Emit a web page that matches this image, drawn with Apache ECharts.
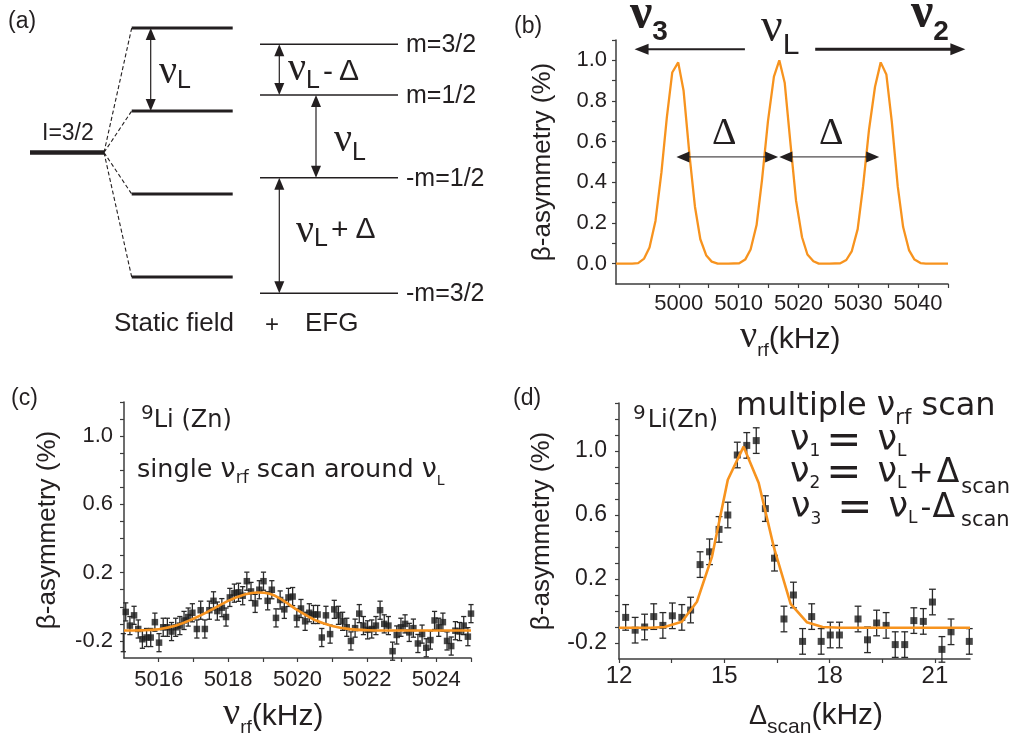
<!DOCTYPE html>
<html><head><meta charset="utf-8">
<script src="https://cdn.jsdelivr.net/npm/echarts@6/dist/echarts.min.js"></script>
<style>html,body{margin:0;padding:0;background:#fff}#c{width:1013px;height:736px}</style>
</head><body><div id="c"></div>
<script>
// ================= DATA =================
// (a) energy levels, in units of nu_L
const zeemanLevels = [1.5, 0.5, -0.5, -1.5];
const efgLevels = [1.304, 0.693, -0.304, -1.696];
const efgLabels = ['m=3/2', 'm=1/2', '-m=1/2', '-m=3/2'];

// (b) simulated multiple-rf resonance curve
const bX = [4989.5, 4992.2, 4993.2, 4994.2, 4995.1, 4996.1, 4997.1, 4998.0, 4998.9, 4999.9, 5000.8, 5001.8, 5002.7, 5003.6, 5004.6, 5005.5, 5006.5, 5008.3, 5010.1, 5011.1, 5012.0, 5013.0, 5013.9, 5014.9, 5015.9, 5016.8, 5017.7, 5018.7, 5019.6, 5020.6, 5021.5, 5022.5, 5023.4, 5025.2, 5027.0, 5028.0, 5028.9, 5029.9, 5030.8, 5031.8, 5032.8, 5033.75, 5034.7, 5035.6, 5036.6, 5037.5, 5038.5, 5039.4, 5040.4, 5041.3, 5045.0];
const bY = [0, 0, 0.003, 0.025, 0.08, 0.21, 0.45, 0.72, 0.94, 0.99, 0.85, 0.53, 0.28, 0.12, 0.04, 0.01, 0, 0, 0.002, 0.02, 0.07, 0.19, 0.41, 0.70, 0.92, 1.0, 0.89, 0.58, 0.31, 0.13, 0.045, 0.012, 0, 0, 0.002, 0.018, 0.06, 0.17, 0.38, 0.66, 0.87, 0.99, 0.93, 0.70, 0.38, 0.18, 0.065, 0.02, 0.003, 0, 0];
const bPeakCenters = [4999.6, 5016.6, 5016.8, 5033.5];
const bDeltaLevel = 0.525;
const bTopArrowLevel = 1.054;
const bXTicks = [4995, 5000, 5005, 5010, 5015, 5020, 5025, 5030, 5035, 5040, 5045];
const bXLabels = [5000, 5010, 5020, 5030, 5040];
const bYTicks = [0, 0.1, 0.2, 0.3, 0.4, 0.5, 0.6, 0.7, 0.8, 0.9, 1.0, 1.1];
const bYLabels = [0, 0.2, 0.4, 0.6, 0.8, 1.0];

// (c) single rf scan data
const cX = [5014.98, 5015.05, 5015.17, 5015.29, 5015.41, 5015.53, 5015.65, 5015.77, 5015.89, 5016.01, 5016.13, 5016.25, 5016.37, 5016.49, 5016.61, 5016.73, 5016.85, 5016.97, 5017.10, 5017.21, 5017.33, 5017.46, 5017.58, 5017.69, 5017.82, 5017.94, 5018.05, 5018.18, 5018.30, 5018.42, 5018.54, 5018.66, 5018.78, 5018.90, 5019.02, 5019.14, 5019.26, 5019.38, 5019.50, 5019.62, 5019.74, 5019.86, 5019.98, 5020.10, 5020.22, 5020.34, 5020.46, 5020.58, 5020.70, 5020.82, 5020.94, 5021.06, 5021.18, 5021.30, 5021.42, 5021.54, 5021.66, 5021.78, 5021.90, 5022.02, 5022.14, 5022.26, 5022.38, 5022.50, 5022.62, 5022.74, 5022.86, 5022.98, 5023.10, 5023.22, 5023.34, 5023.47, 5023.59, 5023.71, 5023.83, 5023.95, 5024.07, 5024.19, 5024.31, 5024.43, 5024.55, 5024.67, 5024.79, 5024.91, 5025.00];
const cY = [-0.21, -0.03, -0.11, -0.05, -0.13, -0.19, -0.18, -0.18, -0.09, -0.21, -0.12, -0.12, -0.145, -0.12, -0.11, -0.08, -0.06, -0.035, -0.13, -0.02, -0.13, -0.02, 0.035, -0.025, -0.005, -0.06, 0.055, 0.08, 0.085, 0.065, 0.15, 0.09, 0.02, 0.10, 0.15, 0.035, 0.10, -0.065, 0.04, -0.015, 0.055, 0.06, -0.065, -0.01, -0.085, -0.035, -0.045, -0.045, -0.18, -0.05, -0.16, -0.015, -0.05, -0.085, -0.12, -0.20, -0.125, -0.04, -0.11, -0.135, -0.13, -0.11, -0.02, -0.10, -0.11, -0.26, -0.165, -0.12, -0.10, -0.15, -0.125, -0.215, -0.16, -0.24, -0.195, -0.08, -0.12, -0.09, -0.20, -0.23, -0.14, -0.145, -0.11, -0.175, -0.04];
const cErr = 0.053;
const cFitX = [5015, 5015.5, 5016, 5016.5, 5017, 5017.5, 5018, 5018.5, 5018.85, 5019.2, 5019.5, 5020, 5020.5, 5021, 5021.5, 5022, 5023, 5025];
const cFitY = [-0.139, -0.138, -0.132, -0.11, -0.07, -0.02, 0.035, 0.074, 0.084, 0.076, 0.048, -0.02, -0.077, -0.112, -0.131, -0.137, -0.139, -0.139];
const cXTicks = [5016, 5017, 5018, 5019, 5020, 5021, 5022, 5023, 5024, 5025];
const cXLabels = [5016, 5018, 5020, 5022, 5024];
const cYTicks = [-0.2, -0.1, 0, 0.1, 0.2, 0.3, 0.4, 0.5, 0.6, 0.7, 0.8, 0.9, 1.0, 1.1, 1.2];
const cYLabels = [-0.2, 0.2, 0.6, 1.0];

// (d) multiple rf scan data
const dX = [12.19, 12.46, 12.73, 12.99, 13.25, 13.52, 13.79, 14.04, 14.31, 14.58, 14.85, 15.10, 15.37, 15.64, 15.91, 16.17, 16.43, 16.70, 16.97, 17.23, 17.49, 17.76, 18.02, 18.28, 18.81, 19.08, 19.34, 19.61, 19.87, 20.14, 20.40, 20.67, 20.93, 21.20, 21.46, 21.98];
const dY = [-0.04, -0.12, -0.10, -0.035, -0.09, -0.03, -0.04, 0.006, 0.29, 0.37, 0.51, 0.60, 0.975, 1.035, 1.065, 0.64, 0.33, -0.05, 0.10, -0.19, -0.035, -0.19, -0.15, -0.15, -0.05, -0.18, -0.075, -0.09, -0.21, -0.21, -0.06, -0.065, 0.056, -0.24, -0.13, -0.19];
const dErr = 0.08;
const dFitX = [12, 12.9, 13.3, 13.79, 14.22, 14.65, 15.10, 15.55, 15.98, 16.41, 16.89, 17.35, 17.80, 18.3, 22];
const dFitY = [-0.105, -0.105, -0.10, -0.067, 0.058, 0.34, 0.82, 1.027, 0.80, 0.40, 0.045, -0.07, -0.10, -0.105, -0.105];
const dXTicks = [12, 13.5, 15, 16.5, 18, 19.5, 21];
const dXLabels = [12, 15, 18, 21];
const dYTicks = [-0.2, -0.1, 0, 0.1, 0.2, 0.3, 0.4, 0.5, 0.6, 0.7, 0.8, 0.9, 1.0, 1.1, 1.2, 1.3];
const dYLabels = [-0.2, 0.2, 0.6, 1.0];

// ================= STYLE / HELPERS =================
const C_TEXT = '#231f20', C_AXIS = '#3c3c3c', C_FIT = '#F7931E';
const SANS = '"Liberation Sans", Arial, sans-serif';
const SERIF = '"Liberation Serif", "Times New Roman", serif';
const GEO = '"DejaVu Sans", sans-serif';

// rich text with baseline alignment; toks: [text, family, size, shift(+down), padLeft, weight]
function richText(x, baseY, toks, extra) {
  let B = 0;
  toks.forEach(t => { B = Math.max(B, 0.85 * t[2] - (t[3] || 0)); });
  const rich = {}; let str = '';
  toks.forEach((t, i) => {
    const d = B + (t[3] || 0) - 0.85 * t[2];
    rich['t' + i] = {
      fontFamily: t[1], fontSize: t[2], fontWeight: t[5] || 'normal',
      fill: C_TEXT, verticalAlign: 'top', lineHeight: t[2],
      padding: [d, 0, 0, t[4] || 0]
    };
    str += '{t' + i + '|' + t[0] + '}';
  });
  return Object.assign({
    type: 'text', x: x, y: baseY - B, z: 100,
    style: { text: str, rich: rich, fill: C_TEXT, align: 'left', verticalAlign: 'top' }
  }, extra || {});
}

// generic segment/arrow custom series
function segSeries(gridIdx, items) {
  return {
    type: 'custom', coordinateSystem: 'cartesian2d', xAxisIndex: gridIdx, yAxisIndex: gridIdx,
    clip: false, silent: true, z: 5,
    data: items.map(it => [it.from[0], it.from[1]]),
    renderItem: function (params, api) {
      const it = items[params.dataIndex];
      const p1 = api.coord(it.from), p2 = api.coord(it.to);
      const dx = p2[0] - p1[0], dy = p2[1] - p1[1];
      const L = Math.hypot(dx, dy) || 1; const ux = dx / L, uy = dy / L;
      const hl = it.hl || 0, hw = it.hw || 0, col = it.color || C_TEXT;
      const ch = [];
      let a = p1.slice(), b = p2.slice();
      function head(tip, dx_, dy_) {
        const bx = tip[0] - dx_ * hl, by = tip[1] - dy_ * hl;
        return { type: 'polygon', shape: { points: [[tip[0], tip[1]], [bx - dy_ * hw / 2, by + dx_ * hw / 2], [bx + dy_ * hw / 2, by - dx_ * hw / 2]] }, style: { fill: col } };
      }
      if (it.heads === 2) { ch.push(head(p1, -ux, -uy)); a = [p1[0] + ux * hl * 0.8, p1[1] + uy * hl * 0.8]; }
      if (it.heads >= 1) { ch.push(head(p2, ux, uy)); b = [p2[0] - ux * hl * 0.8, p2[1] - uy * hl * 0.8]; }
      ch.unshift({ type: 'line', shape: { x1: a[0], y1: a[1], x2: b[0], y2: b[1] },
        style: { stroke: col, lineWidth: it.w || 1, lineDash: it.dash || null } });
      if (it.label) {
        ch.push({ type: 'text', x: p2[0] + 8, y: p2[1] + 1,
          style: { text: it.label, fontFamily: SANS, fontSize: 25, fill: C_TEXT, align: 'left', verticalAlign: 'middle' } });
      }
      return { type: 'group', children: ch };
    }
  };
}

function errSeries(gridIdx, xs, ys, err, cap, lw) {
  return {
    type: 'custom', coordinateSystem: 'cartesian2d', xAxisIndex: gridIdx, yAxisIndex: gridIdx,
    silent: true, z: 3, clip: false,
    data: xs.map((x, i) => [x, ys[i]]),
    renderItem: function (params, api) {
      const x = api.value(0), y = api.value(1);
      const t = api.coord([x, y + err]), b = api.coord([x, y - err]);
      const st = { stroke: '#2a2a2a', lineWidth: lw };
      return { type: 'group', children: [
        { type: 'line', shape: { x1: t[0], y1: t[1], x2: b[0], y2: b[1] }, style: st },
        { type: 'line', shape: { x1: t[0] - cap, y1: t[1], x2: t[0] + cap, y2: t[1] }, style: st },
        { type: 'line', shape: { x1: b[0] - cap, y1: b[1], x2: b[0] + cap, y2: b[1] }, style: st }
      ] };
    }
  };
}

function valAxis(gridIndex, min, max, ticks, labels, fmt, fontSize, margin, extra) {
  return Object.assign({
    type: 'value', gridIndex: gridIndex, min: min, max: max,
    axisLine: { show: true, onZero: false, lineStyle: { color: C_AXIS, width: 1.5 } },
    axisTick: { show: true, inside: false, length: 4, customValues: ticks, lineStyle: { color: C_AXIS, width: 1.2 } },
    axisLabel: { customValues: labels, formatter: fmt, fontFamily: SANS, fontSize: fontSize, color: C_TEXT, margin: margin },
    splitLine: { show: false }
  }, extra || {});
}
const yNameStyle = { fontFamily: SANS, fontSize: 26, color: C_TEXT };
const f1 = v => Number(v).toFixed(1);
const f0 = v => String(Math.round(v));

// ================= PANEL (a) items =================
const AX = { iL: 30, iR: 104, zL: 131.7, zR: 232.7, eL: 260, eR: 398, zArrow: 150.7, eArrow1: 279.3, eArrow2: 316 };
const aItems = [];
aItems.push({ from: [AX.iL, 0], to: [AX.iR, 0], w: 4.5 });
zeemanLevels.forEach(E => {
  aItems.push({ from: [AX.iR, 0], to: [AX.zL, E], w: 1.1, dash: [4, 2.5] });
  aItems.push({ from: [AX.zL, E], to: [AX.zR, E], w: 3 });
});
efgLevels.forEach((E, i) => aItems.push({ from: [AX.eL, E], to: [AX.eR, E], w: 1.3, label: efgLabels[i] }));
aItems.push({ from: [AX.zArrow, zeemanLevels[0]], to: [AX.zArrow, zeemanLevels[1]], heads: 2, hl: 12, hw: 10, w: 1.2 });
aItems.push({ from: [AX.eArrow1, efgLevels[0]], to: [AX.eArrow1, efgLevels[1]], heads: 2, hl: 12, hw: 10, w: 1.2 });
aItems.push({ from: [AX.eArrow2, efgLevels[1]], to: [AX.eArrow2, efgLevels[2]], heads: 2, hl: 12, hw: 10, w: 1.2 });
aItems.push({ from: [AX.eArrow1, efgLevels[2]], to: [AX.eArrow1, efgLevels[3]], heads: 2, hl: 12, hw: 10, w: 1.2 });

// ================= PANEL (b) arrows =================
const bItems = [
  { from: [bPeakCenters[0], bDeltaLevel], to: [bPeakCenters[1], bDeltaLevel], heads: 2, hl: 13, hw: 11, w: 1 },
  { from: [bPeakCenters[2], bDeltaLevel], to: [bPeakCenters[3], bDeltaLevel], heads: 2, hl: 13, hw: 11, w: 1 },
  { from: [5011.05, bTopArrowLevel], to: [4992.6, bTopArrowLevel], heads: 1, hl: 14, hw: 11, w: 2 },
  { from: [5022.8, bTopArrowLevel], to: [5047.9, bTopArrowLevel], heads: 1, hl: 15, hw: 12, w: 3 }
];

// ================= GRAPHIC TEXT =================
const texts = [
  richText(8, 30, [['(a)', SANS, 23]]),
  richText(514, 35, [['(b)', SANS, 23]]),
  richText(11, 407, [['(c)', SANS, 23]]),
  richText(513, 407, [['(d)', SANS, 23]]),
  // panel a
  richText(42, 142, [['I=3/2', SANS, 23]]),
  richText(159, 86, [['ν', SERIF, 40], ['L', SANS, 25, 4]]),
  richText(288, 83, [['ν', SERIF, 40], ['L', SANS, 25, 7], ['-', SANS, 30, 0, 3], ['Δ', SANS, 30, -1, 6]]),
  richText(334, 154, [['ν', SERIF, 40], ['L', SANS, 25, 8]]),
  richText(296, 245, [['ν', SERIF, 40], ['L', SANS, 25, 3], ['+', SANS, 30, -4, 3], ['Δ', SANS, 30, -5, 7]]),
  richText(114, 333, [['Static field', SANS, 26]]),
  richText(265, 334, [['+', SANS, 24]]),
  richText(305, 333, [['EFG', SANS, 26]]),
  // panel b
  richText(630, 33, [['ν', SERIF, 50, 0, 0, 'bold'], ['3', SANS, 28, 9, 0, 'bold']]),
  richText(761, 45, [['ν', SERIF, 48], ['L', SANS, 30, 11]]),
  richText(911, 32, [['ν', SERIF, 50, 0, 0, 'bold'], ['2', SANS, 28, 10, 0, 'bold']]),
  richText(712, 147, [['Δ', SERIF, 38]]),
  richText(819, 147, [['Δ', SERIF, 38]]),
  richText(740, 350, [['ν', SERIF, 38], ['rf', SANS, 19, 7], ['(kHz)', SANS, 30]]),
  // panel c
  richText(141, 429, [['9', GEO, 20, -8], ['Li (Zn)', GEO, 24]]),
  richText(137, 479, [['single ', GEO, 25.5], ['ν', GEO, 27], ['rf', GEO, 17, 6], [' scan around ', GEO, 25.5], ['ν', GEO, 27], ['L', GEO, 14, 7]]),
  richText(223, 727, [['ν', SERIF, 38], ['rf', SANS, 19, 7], ['(kHz)', SANS, 30]]),
  // panel d
  richText(633, 429, [['9', GEO, 20, -8], ['Li(Zn)', GEO, 24, 0, 2]]),
  richText(736, 418, [['multiple ', GEO, 32], ['ν', GEO, 33], ['rf', GEO, 21, 8], [' scan', GEO, 32]]),
  richText(790, 453, [['ν', GEO, 35], ['1', GEO, 17, 5], ['=', GEO, 42, 4, 6], ['ν', GEO, 35, 0, 16], ['L', GEO, 17, 5]]),
  richText(790, 485, [['ν', GEO, 35], ['2', GEO, 17, 5], ['=', GEO, 42, 4, 6], ['ν', GEO, 35, 0, 16], ['L', GEO, 17, 5], ['+', GEO, 30, 0, 2], ['Δ', GEO, 33, 0, 3], ['scan', GEO, 21, 10, 2]]),
  richText(791, 520, [['ν', GEO, 35], ['3', GEO, 17, 6], ['=', GEO, 42, 4, 16], ['ν', GEO, 35, 0, 16], ['L', GEO, 17, 5], ['-', GEO, 30, 0, 3], ['Δ', GEO, 33, 0, 1], ['scan', GEO, 21, 8, 6]]),
  richText(749, 726, [['Δ', SANS, 27], ['scan', SANS, 21, 9], ['(kHz)', SANS, 30]])
];

// ================= OPTION =================
const option = {
  animation: false,
  backgroundColor: '#ffffff',
  grid: [
    { left: 0, top: 7.25, width: 420, height: 311.25 },
    { left: 616, top: 40, width: 332, height: 244 },
    { left: 124, top: 402, width: 347, height: 256 },
    { left: 619, top: 403, width: 351, height: 256 }
  ],
  xAxis: [
    { type: 'value', gridIndex: 0, min: 0, max: 420, show: false },
    valAxis(1, 4989.5, 5045, bXTicks, bXLabels, f0, 22, 9),
    valAxis(2, 5015, 5025, cXTicks, cXLabels, f0, 22, 11),
    valAxis(3, 12, 22, dXTicks, dXLabels, f0, 24, 5)
  ],
  yAxis: [
    { type: 'value', gridIndex: 0, min: -2, max: 1.75, show: false },
    valAxis(1, -0.1, 1.1, bYTicks, bYLabels, f1, 22, 9, { name: 'β-asymmetry (%)', nameLocation: 'middle', nameGap: 60, nameTextStyle: yNameStyle }),
    valAxis(2, -0.3, 1.2, cYTicks, cYLabels, f1, 22, 11, { name: 'β-asymmetry (%)', nameLocation: 'middle', nameGap: 63, nameTextStyle: yNameStyle }),
    valAxis(3, -0.3, 1.3, dYTicks, dYLabels, f1, 23, 12, { name: 'β-asymmetry (%)', nameLocation: 'middle', nameGap: 64, nameTextStyle: yNameStyle })
  ],
  series: [
    segSeries(0, aItems),
    { type: 'line', xAxisIndex: 1, yAxisIndex: 1, data: bX.map((x, i) => [x, bY[i]]), showSymbol: false, symbol: 'none',
      lineStyle: { color: C_FIT, width: 2.3 }, z: 4, silent: true },
    segSeries(1, bItems),
    errSeries(2, cX, cY, cErr, 2.6, 1.3),
    { type: 'scatter', xAxisIndex: 2, yAxisIndex: 2, data: cX.map((x, i) => [x, cY[i]]), symbol: 'rect', symbolSize: 6.5,
      itemStyle: { color: '#1c1c1c' }, z: 4, silent: true },
    { type: 'line', xAxisIndex: 2, yAxisIndex: 2, data: cFitX.map((x, i) => [x, cFitY[i]]), smooth: 0.4, showSymbol: false, symbol: 'none',
      lineStyle: { color: C_FIT, width: 2.6 }, z: 6, silent: true },
    errSeries(3, dX, dY, dErr, 3.4, 1.3),
    { type: 'scatter', xAxisIndex: 3, yAxisIndex: 3, data: dX.map((x, i) => [x, dY[i]]), symbol: 'rect', symbolSize: 7,
      itemStyle: { color: '#1c1c1c' }, z: 4, silent: true },
    { type: 'line', xAxisIndex: 3, yAxisIndex: 3, data: dFitX.map((x, i) => [x, dFitY[i]]), showSymbol: false, symbol: 'none',
      lineStyle: { color: C_FIT, width: 2.6 }, z: 6, silent: true }
  ],
  graphic: texts
};

const chart = echarts.init(document.getElementById('c'), null, { renderer: 'canvas' });
chart.setOption(option);
</script>
</body></html>
